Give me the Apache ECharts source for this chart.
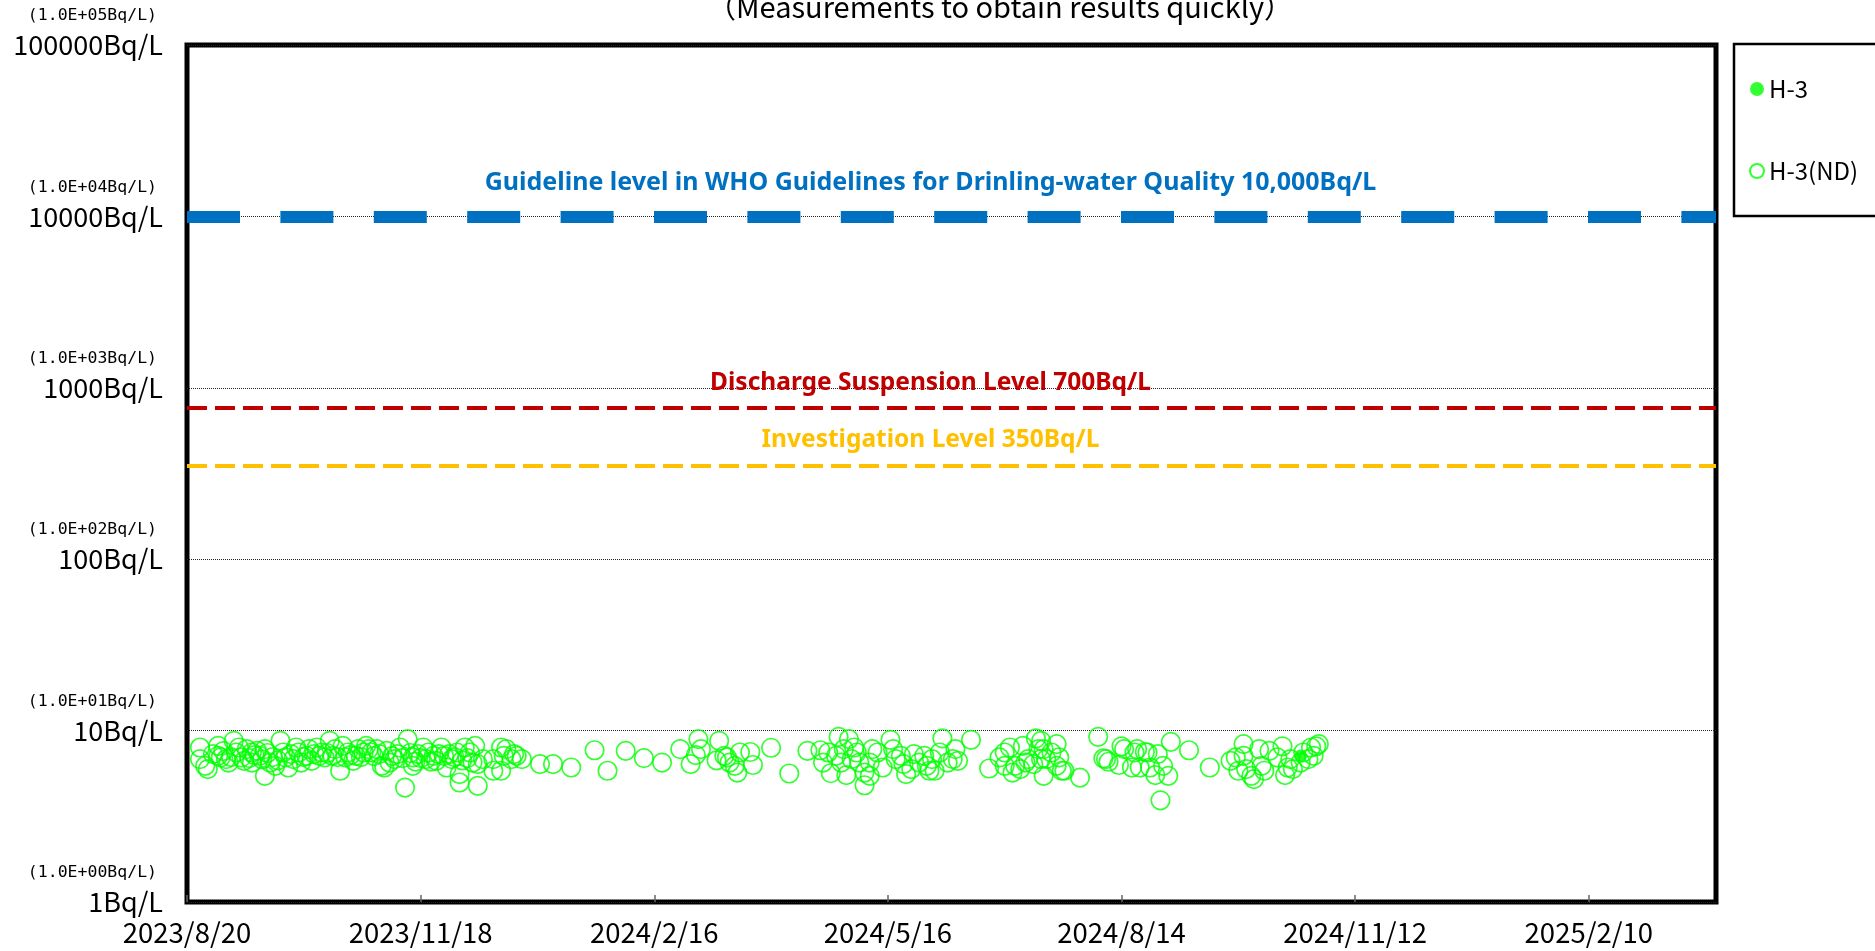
<!DOCTYPE html>
<html><head><meta charset="utf-8">
<script src="https://cdn.jsdelivr.net/npm/echarts@6/dist/echarts.min.js"></script>
<style>html,body{margin:0;padding:0;background:#fff}#c{width:1875px;height:951px}</style>
</head><body><div id="c"></div>
<script>
const titleText = '（Measurements to obtain results quickly）';
const xStart = '2023-08-20';
const xEnd = '2025-03-31';
const xTickDays = 90;
const yMin = 1, yMax = 100000;
const yTickSci = ['(1.0E+00Bq/L)','(1.0E+01Bq/L)','(1.0E+02Bq/L)','(1.0E+03Bq/L)','(1.0E+04Bq/L)','(1.0E+05Bq/L)'];
const yTickMain = ['1Bq/L','10Bq/L','100Bq/L','1000Bq/L','10000Bq/L','100000Bq/L'];
const refNames = ['Guideline level in WHO Guidelines for Drinling-water Quality 10,000Bq/L','Discharge Suspension Level 700Bq/L','Investigation Level 350Bq/L'];
const refValues = [10000, 760, 350];
const seriesNames = ['H-3','H-3(ND)'];

const h3Dates = ['2024-10-22'];
const h3Values = [7.1];

const ndDates = [
'2023-08-25','2023-08-25','2023-08-27','2023-08-28','2023-08-30','2023-09-01','2023-09-01','2023-09-02','2023-09-03','2023-09-04',
'2023-09-05','2023-09-06','2023-09-07','2023-09-08','2023-09-09','2023-09-10','2023-09-11','2023-09-12','2023-09-13','2023-09-14',
'2023-09-14','2023-09-15','2023-09-16','2023-09-17','2023-09-18','2023-09-19','2023-09-19','2023-09-20','2023-09-21','2023-09-22',
'2023-09-23','2023-09-24','2023-09-25','2023-09-26','2023-09-27','2023-09-28','2023-09-29','2023-09-30','2023-10-01','2023-10-02',
'2023-10-03','2023-10-04','2023-10-05','2023-10-06','2023-10-07','2023-10-08','2023-10-09','2023-10-10','2023-10-11','2023-10-12',
'2023-10-13','2023-10-14','2023-10-15','2023-10-16','2023-10-17','2023-10-18','2023-10-19','2023-10-20','2023-10-21','2023-10-22',
'2023-10-23','2023-10-24','2023-10-25','2023-10-26','2023-10-27','2023-10-28','2023-10-29','2023-10-30','2023-10-31','2023-11-01',
'2023-11-02','2023-11-03','2023-11-04','2023-11-05','2023-11-06','2023-11-07','2023-11-08','2023-11-09','2023-11-10','2023-11-11',
'2023-11-12','2023-11-13','2023-11-14','2023-11-15','2023-11-15','2023-11-16','2023-11-17','2023-11-18','2023-11-19','2023-11-20',
'2023-11-21','2023-11-22','2023-11-23','2023-11-24','2023-11-25','2023-11-26','2023-11-27','2023-11-28','2023-11-29','2023-11-30',
'2023-12-01','2023-12-02','2023-12-03','2023-12-03','2023-12-04','2023-12-05','2023-12-06','2023-12-07','2023-12-08',
'2023-12-09','2023-12-10','2023-12-10','2023-12-12','2023-12-16','2023-12-16','2023-12-19','2023-12-19','2023-12-20','2023-12-21',
'2023-12-23','2023-12-24','2023-12-25','2023-12-27',
'2024-01-03','2024-01-08','2024-01-15','2024-01-24','2024-01-29','2024-02-05','2024-02-12','2024-02-19','2024-02-26',
'2024-03-01','2024-03-03','2024-03-04','2024-03-05','2024-03-11','2024-03-12','2024-03-14','2024-03-15','2024-03-16','2024-03-18',
'2024-03-19','2024-03-20','2024-03-24','2024-03-25',
'2024-04-01','2024-04-08','2024-04-15','2024-04-20','2024-04-21','2024-04-23','2024-04-24','2024-04-26','2024-04-27','2024-04-28',
'2024-04-29','2024-04-30','2024-05-01','2024-05-02','2024-05-03','2024-05-04','2024-05-05','2024-05-07','2024-05-07','2024-05-09',
'2024-05-09','2024-05-10','2024-05-12','2024-05-14','2024-05-17','2024-05-18','2024-05-19','2024-05-21','2024-05-22','2024-05-23',
'2024-05-25','2024-05-26','2024-05-28','2024-05-30','2024-05-31','2024-06-01','2024-06-02','2024-06-03','2024-06-05','2024-06-06',
'2024-06-08','2024-06-10','2024-06-11','2024-06-12','2024-06-17','2024-06-24','2024-06-28','2024-06-30','2024-06-30','2024-07-02',
'2024-07-03','2024-07-04','2024-07-06','2024-07-07','2024-07-08','2024-07-09','2024-07-11','2024-07-12','2024-07-13','2024-07-14',
'2024-07-14','2024-07-15','2024-07-15','2024-07-16','2024-07-18','2024-07-20','2024-07-20','2024-07-21','2024-07-22','2024-07-23',
'2024-07-29','2024-08-05','2024-08-07','2024-08-08','2024-08-09','2024-08-13','2024-08-14','2024-08-15','2024-08-18','2024-08-19',
'2024-08-20','2024-08-21','2024-08-23','2024-08-24','2024-08-25','2024-08-27','2024-08-28','2024-08-29','2024-08-30','2024-09-01',
'2024-09-02','2024-09-09','2024-09-17','2024-09-25','2024-09-27','2024-09-28','2024-09-30','2024-09-30','2024-10-01','2024-10-03',
'2024-10-04','2024-10-06','2024-10-07','2024-10-08','2024-10-10','2024-10-13','2024-10-15','2024-10-16','2024-10-17','2024-10-18',
'2024-10-19','2024-10-22','2024-10-23','2024-10-25','2024-10-26','2024-10-27','2024-10-28','2024-10-29'
];
const ndValues = [
7.97,6.81,6.23,5.96,7.3,8.15,7.13,6.97,7.6,6.81,
6.51,7.0,8.72,7.45,7.97,6.97,6.66,7.79,6.9,6.51,
7.45,7.2,7.62,7.13,6.8,7.79,5.45,7.4,6.51,7.0,
6.23,6.7,8.72,7.45,6.97,6.09,7.3,6.81,7.97,7.45,
6.51,7.0,7.13,7.79,6.66,7.3,7.97,7.13,7.45,6.97,
7.4,8.72,7.13,7.79,7.0,5.83,8.15,6.97,7.45,7.2,
6.66,7.13,7.79,7.0,7.45,8.15,7.79,7.45,7.1,7.79,
7.3,6.23,6.09,7.62,6.51,7.1,6.81,7.3,7.97,6.9,
4.65,8.92,7.4,6.23,6.97,6.6,7.29,6.9,7.97,6.81,
7.45,6.6,7.13,6.66,7.3,7.97,7.13,6.09,7.29,6.81,
7.0,7.45,5.57,4.98,6.7,7.97,6.9,7.45,6.51,
8.15,6.37,4.76,6.81,5.83,6.81,7.97,5.83,7.13,7.79,
6.81,7.29,7.13,6.81,
6.37,6.37,6.09,7.68,5.83,7.62,6.9,6.51,7.79,
6.37,7.2,8.92,7.79,6.7,8.72,7.13,6.97,6.51,6.23,
5.69,7.45,7.5,6.3,
7.94,5.62,7.62,7.68,6.51,7.45,5.64,7.13,9.2,6.51,
7.79,5.5,8.92,6.81,7.97,7.45,6.51,5.69,4.8,6.51,
5.45,7.79,7.45,6.09,8.84,7.79,6.81,7.13,6.37,5.57,
5.96,7.29,6.51,7.13,6.23,5.83,6.81,5.83,7.45,9.0,
6.51,6.81,7.79,6.66,8.84,6.01,6.97,7.45,6.23,7.97,
5.69,6.23,5.96,8.15,6.51,6.81,6.37,9.0,7.79,6.81,
8.72,5.45,7.79,6.81,7.45,8.34,6.23,6.97,5.83,5.83,
5.32,9.2,6.88,6.81,6.58,6.3,8.1,7.79,6.09,7.45,
7.79,6.09,7.5,7.45,6.09,5.5,7.29,3.92,6.23,5.45,
8.6,7.68,6.09,6.66,6.97,5.83,7.13,8.34,5.96,5.45,
5.21,7.79,6.23,5.83,7.62,6.97,8.1,5.5,6.09,6.81,
5.96,6.51,7.45,6.81,7.97,7.13,8.1,8.34
];

const DAY = 86400000;
function dayOf(s){ const p = s.split('-').map(Number); return (Date.UTC(p[0],p[1]-1,p[2]) - Date.UTC(2023,7,20)) / DAY; }
function fmtDay(d){ const t = new Date(Date.UTC(2023,7,20) + d*DAY); return t.getUTCFullYear()+'/'+(t.getUTCMonth()+1)+'/'+t.getUTCDate(); }
const xMax = dayOf(xEnd);
const ndData = ndDates.map((d,i)=>[dayOf(d), ndValues[i]]);
const h3Data = h3Dates.map((d,i)=>[dayOf(d), h3Values[i]]);

const green = '#00FF00';
const labelFont = '"Noto Sans CJK JP", "Noto Sans", sans-serif';
const monoFont = '"DejaVu Sans Mono", "Liberation Mono", monospace';
const boldFont = '"Noto Sans", "Liberation Sans", sans-serif';

const chart = echarts.init(document.getElementById('c'), null, {renderer:'canvas'});
chart.setOption({
  animation: false,
  backgroundColor: '#fff',
  title: { text: titleText, left: 995, top: -13, textAlign: 'center',
    textStyle: { fontFamily: labelFont, fontSize: 29, fontWeight: 'normal', color: '#000' } },
  grid: { left: 187, right: 159, top: 45, bottom: 49, show: true, borderColor: '#000', borderWidth: 5, containLabel: false },
  legend: { orient: 'vertical', left: 1744, top: 72, itemGap: 58, itemWidth: 14, itemHeight: 14,
    textStyle: { fontFamily: labelFont, fontSize: 24, color: '#000' }, data: seriesNames },
  graphic: [{ type: 'rect', shape: { x: 1734, y: 44, width: 200, height: 172 }, style: { fill: 'none', stroke: '#000', lineWidth: 2.5 }, z: 100 }],
  xAxis: { type: 'value', min: 0, max: xMax, interval: xTickDays,
    axisLine: { show: false },
    axisTick: { show: true, inside: true, length: 7, lineStyle: { color: '#666', width: 1.5 } },
    splitLine: { show: false },
    axisLabel: { showMaxLabel: false, formatter: v => fmtDay(v), fontFamily: labelFont, fontSize: 27.5, color: '#000', margin: 17 } },
  yAxis: { type: 'log', logBase: 10, min: yMin, max: yMax,
    axisLine: { show: false }, axisTick: { show: false },
    splitLine: { show: true, lineStyle: { color: '#222', width: 1, type: [1, 1] } },
    axisLabel: { margin: 24, align: 'right',
      formatter: v => { const i = Math.round(Math.log10(v)); return '{s|' + yTickSci[i] + '}\n{b|' + yTickMain[i] + '}\n{e| }'; },
      rich: { s: { fontFamily: monoFont, fontSize: 16.5, lineHeight: 24, color: '#000', padding: [0, 6, 0, 0] },
              b: { fontFamily: labelFont, fontSize: 27, lineHeight: 34, color: '#000' },
              e: { fontSize: 10, lineHeight: 24 } } } },
  series: [
    { name: seriesNames[0], type: 'scatter', data: h3Data, symbol: 'circle', symbolSize: 13,
      itemStyle: { color: green }, z: 5 },
    { name: seriesNames[1], type: 'scatter', data: ndData, symbol: 'circle', symbolSize: 18.5,
      itemStyle: { color: 'rgba(0,0,0,0)', borderColor: green, borderWidth: 1.7 }, z: 4,
      markLine: { silent: true, symbol: ['none', 'none'], animation: false,
        data: [
          { yAxis: refValues[0], lineStyle: { color: '#0070C0', width: 12, type: [53, 40.4] },
            label: { show: true, formatter: refNames[0], position: 'insideMiddleTop', distance: 21, offset: [-21, 0],
              fontFamily: boldFont, fontWeight: 'bold', fontSize: 25, color: '#0070C0' } },
          { yAxis: refValues[1], lineStyle: { color: '#C00000', width: 4, type: [20, 8] },
            label: { show: true, formatter: refNames[1], position: 'insideMiddleTop', distance: 13, offset: [-21, 0],
              fontFamily: boldFont, fontWeight: 'bold', fontSize: 24.5, color: '#C00000' } },
          { yAxis: refValues[2], lineStyle: { color: '#FFC000', width: 4, type: [20, 8] },
            label: { show: true, formatter: refNames[2], position: 'insideMiddleTop', distance: 13, offset: [-21, 0],
              fontFamily: boldFont, fontWeight: 'bold', fontSize: 24.5, color: '#FFC000' } }
        ] } }
  ]
});
</script></body></html>
